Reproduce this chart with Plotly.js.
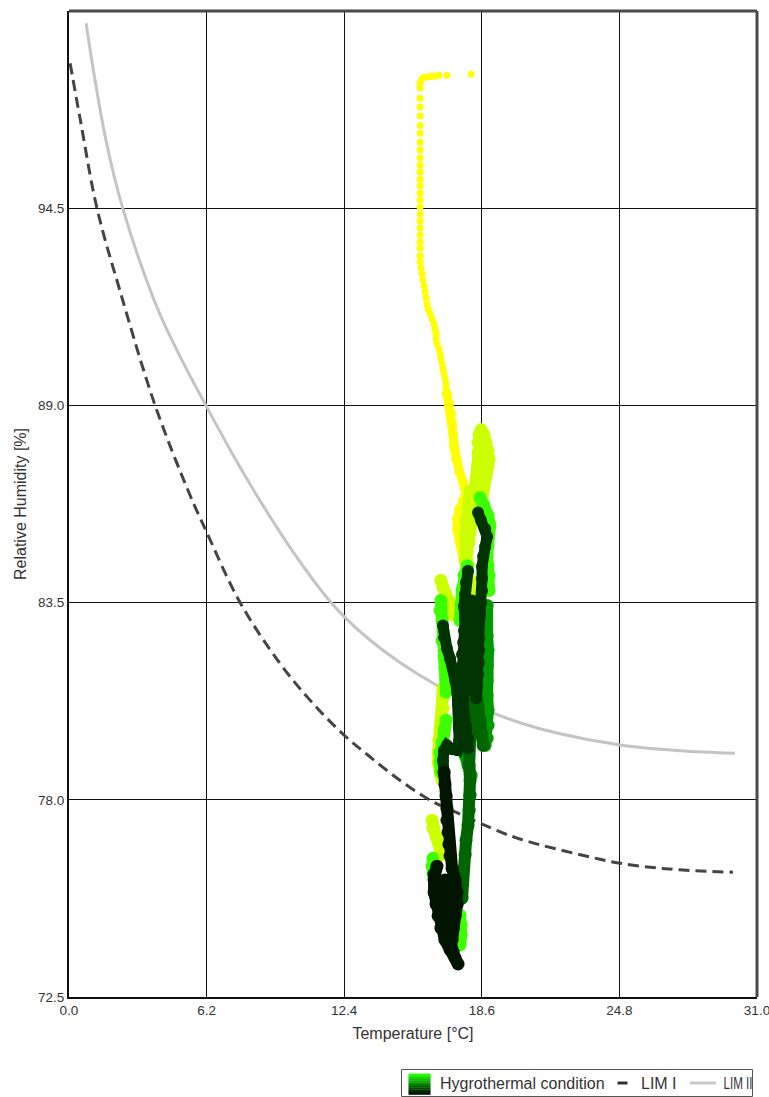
<!DOCTYPE html>
<html><head><meta charset="utf-8">
<script src="https://cdn.plot.ly/plotly-3.0.1.min.js"></script>
<style>html,body{margin:0;padding:0;background:#fff}</style>
</head><body><div id="chart" style="width:769px;height:1097px"></div>
<script>
// ---- tick labels ----
const xTickVals = [0, 6.2, 12.4, 18.6, 24.8, 31.0];
const xTickText = ['0.0', '6.2', '12.4', '18.6', '24.8', '31.0'];
const yTickVals = [72.5, 78.0, 83.5, 89.0, 94.5];
const yTickText = ['72.5', '78.0', '83.5', '89.0', '94.5'];

// ---- limit curves (temperature °C, relative humidity %) ----
const lim1T  = [0.05, 0.50, 1.26, 2.30, 3.88, 5.45, 6.17, 7.71, 9.51, 10.86, 12.40, 13.56, 14.92, 16.27, 17.62, 18.52, 20.19, 23.93, 24.83, 26.18, 27.67, 29.92];
const lim1RH = [98.54, 97.00, 94.50, 92.19, 89.00, 86.50, 85.51, 83.50, 81.80, 80.78, 79.80, 79.20, 78.54, 77.99, 77.60, 77.35, 76.93, 76.34, 76.23, 76.12, 76.04, 75.98];
const lim2T  = [0.77, 1.17, 1.62, 2.03, 2.43, 3.20, 4.10, 5.14, 6.17, 7.48, 8.83, 10.19, 11.54, 12.44, 13.57, 14.91, 16.72, 18.52, 20.32, 22.12, 24.83, 27.53, 30.00];
const lim2RH = [99.66, 98.08, 96.53, 95.40, 94.48, 93.00, 91.54, 90.20, 89.00, 87.52, 86.12, 84.83, 83.70, 83.08, 82.45, 81.83, 81.14, 80.57, 80.15, 79.84, 79.53, 79.37, 79.30];

// ---- hygrothermal condition, grouped by colour stage ----
const yellowT = [18.12,17.03,16.67,16.49,16.31,16.18,16.04,15.95,15.86,15.82,15.82,
  15.82,15.82,15.82,15.82,15.82,15.82,15.82,15.82,15.82,15.82,15.82,15.82,15.82,15.82,15.82,15.82,15.82,15.82,15.82,15.82,15.82,15.82,15.82,
  15.86,15.91,15.95,16.00,16.04,16.09,16.13,16.18,16.27,16.36,16.45,16.49,16.54,16.54,16.58,16.67,16.72,16.76,16.81,16.85,
  16.90,16.94,16.99,16.99,17.03,17.08,17.12,17.17,17.21,17.26,17.26,17.31,17.31,17.31,17.35,17.40,17.44,17.49,17.58,17.67,
  17.76,17.85,17.89,17.76,17.62,17.53,17.49,17.49,17.53,17.62,17.71,17.76,17.80,17.85];
const yellowRH = [98.24,98.21,98.21,98.18,98.18,98.16,98.16,98.13,98.07,97.99,97.85,
  97.57,97.32,97.07,96.81,96.59,96.34,96.12,95.90,95.70,95.51,95.31,95.12,94.92,94.73,94.53,94.34,94.14,93.95,93.75,93.56,93.38,93.17,93.00,
  92.83,92.67,92.50,92.33,92.17,92.00,91.83,91.69,91.55,91.41,91.27,91.14,91.00,90.86,90.72,90.58,90.44,90.30,90.16,90.02,
  89.88,89.74,89.60,89.46,89.32,89.19,89.05,88.91,88.77,88.63,88.49,88.35,88.18,88.01,87.85,87.68,87.51,87.35,87.18,87.01,
  86.85,86.68,86.51,86.34,86.18,86.01,85.84,85.68,85.51,85.34,85.17,85.01,84.84,84.67];
// wider yellow stretch lower down
const yellowBandT  = [17.03,17.12,17.21,17.26,17.31,17.35,17.44,17.58,17.76,17.89,17.76,17.58,17.49,17.49,17.62,17.76,17.85,17.94];
const yellowBandRH = [89.32,89.05,88.77,88.49,88.18,87.85,87.51,87.18,86.85,86.51,86.34,86.10,85.84,85.51,85.17,84.84,84.50,84.20];

const yellowGreenT = [17.85,17.94,18.03,18.07,18.12,18.16,18.25,18.30,18.34,18.39,18.43,18.43,18.43,18.48,18.57,18.70,18.79,18.88,18.93,18.88,18.79,18.70,18.66,18.61,18.57, null,
  18.07,17.98,17.89,17.85,17.89,17.98,18.07,18.12,18.16, null,
  16.76,16.85,16.99,17.12,17.21,17.26, null,
  16.85,16.85,16.85,16.81,16.72,16.67,16.63,16.63,16.72,16.81, null,
  16.36,16.40,16.54,16.67,16.76];
const yellowGreenRH = [84.67,84.90,85.17,85.45,85.73,86.01,86.29,86.57,86.85,87.12,87.40,87.68,87.96,88.18,88.32,88.18,87.96,87.74,87.51,87.29,87.07,86.85,86.62,86.40,86.18, null,
  86.62,86.20,85.79,85.37,84.95,84.53,84.12,83.70,83.28, null,
  84.12,83.92,83.73,83.56,83.36,83.17, null,
  81.11,80.83,80.55,80.27,79.99,79.66,79.32,79.05,78.77,78.55, null,
  77.43,77.21,76.98,76.73,76.46];

const brightGreenT = [16.76,16.72,16.81,16.85,16.81,16.90,17.03,17.17, null,
  18.52,18.70,18.88,18.97,18.88,18.88,18.84,18.88,18.93,18.93, null,
  16.99,16.90,16.81,16.72,16.72,16.76, null,
  16.40,16.36,16.40,16.49, null,
  17.62,17.67,17.67,17.62, null,
  17.94,17.80,17.71,17.67,17.62, null,
  16.90,16.94,16.99,16.99];
const brightGreenRH = [83.56,83.28,83.00,82.72,82.44,82.17,81.89,81.66, null,
  86.43,86.21,85.93,85.65,85.37,85.09,84.81,84.53,84.25,83.84, null,
  80.22,79.94,79.60,79.32,79.05,78.77, null,
  76.37,76.15,75.93,75.76, null,
  74.78,74.51,74.23,73.95, null,
  84.53,84.26,83.84,83.42,83.00, null,
  82.00,81.66,81.33,81.00];

const greenT  = [18.84,18.79,18.84,18.88,18.84,18.84,18.84,18.88,18.88,18.84,18.75, null,
  18.07,18.25,18.43,18.57,18.66,18.70,18.75,18.70, null, 17.85,17.98,18.12];
const greenRH = [83.42,83.00,82.58,82.17,81.75,81.33,80.91,80.50,80.08,79.72,79.52, null,
  82.44,82.17,81.89,81.61,81.05,80.50,79.94,79.60, null, 79.24,78.96,78.68];

const midGreenT  = [18.34,18.43,18.52,18.61,18.66, null,
  18.16,18.12,18.07,18.03,17.98,18.03,18.07,18.07,18.03,17.98,17.89,17.85,17.76,17.71,17.71];
const midGreenRH = [81.05,80.63,80.22,79.80,79.52, null,
  81.05,80.63,80.22,79.80,79.38,78.96,78.54,78.13,77.71,77.29,76.87,76.46,76.04,75.62,75.26];

const darkGreenT = [18.43,18.57,18.75,18.84,18.75,18.66,18.61,18.61,18.61,18.57,18.52,18.48,18.48,18.48,18.48,18.43,18.39,18.34, null,
  17.98,17.89,17.85,17.80,17.85,17.80,17.76,17.71,17.71,17.71,17.76,17.76,17.80,17.89,17.98,17.98, null,
  18.16,18.21,18.16,18.12,18.12,18.16,18.16, null,
  16.85,16.90,17.03,17.17,17.31,17.40,17.49,17.53,17.58,17.58,17.58,17.49,17.26,17.03,16.90,16.85,16.90];
const darkGreenRH = [86.01,85.79,85.56,85.34,85.06,84.79,84.51,84.17,83.84,83.50,83.17,82.83,82.50,82.17,81.83,81.50,81.16,80.83, null,
  84.39,84.06,83.73,83.39,83.06,82.72,82.39,82.05,81.72,81.39,81.05,80.72,80.38,80.05,79.72,79.44, null,
  83.56,83.14,82.72,82.31,81.89,81.47,81.05, null,
  82.86,82.53,82.22,81.94,81.66,81.33,81.00,80.66,80.33,79.99,79.66,79.38,79.41,79.52,79.38,79.10,78.77];

const blackGreenT  = [16.90,16.94,16.99,17.03,17.03,17.08,17.12,17.17,17.26,17.40,17.49,17.49,17.40,17.31,17.26, null,
  16.58,16.45,16.45,16.45,16.54,16.63,16.76,16.94,17.17,17.40,17.53, null,
  16.94,16.99,17.03,17.08,17.17,17.31];
const blackGreenRH = [78.77,78.43,78.10,77.76,77.43,77.09,76.76,76.43,76.09,75.76,75.42,75.09,74.76,74.42,74.09, null,
  76.15,75.93,75.76,75.42,75.09,74.76,74.42,74.09,73.82,73.59,73.42, null,
  75.76,75.34,74.92,74.51,74.09,73.75];

// ---- traces ----
function band(x, y, color, w) {
  return {x: x, y: y, type: 'scatter', mode: 'lines+markers', showlegend: false, hoverinfo: 'skip',
    line: {color: color, width: w}, marker: {color: color, size: w + 1}};
}
const traces = [
  {x: lim2T, y: lim2RH, type: 'scatter', mode: 'lines', name: 'LIM II', showlegend: false, hoverinfo: 'skip',
   line: {color: '#c4c4c4', width: 3, shape: 'spline'}},
  {x: lim1T, y: lim1RH, type: 'scatter', mode: 'lines', name: 'LIM I', showlegend: false, hoverinfo: 'skip',
   line: {color: '#444444', width: 3, dash: '11px,6px', shape: 'spline'}},
  {x: yellowT, y: yellowRH, type: 'scatter', mode: 'markers', showlegend: false, hoverinfo: 'skip',
   marker: {color: '#ffff00', size: 7}},
  band(yellowBandT, yellowBandRH, '#ffff00', 9),
  band(yellowGreenT, yellowGreenRH, '#ccff00', 12),
  band(brightGreenT, brightGreenRH, '#3cff00', 12),
  band(greenT, greenRH, '#009a00', 12),
  band(midGreenT, midGreenRH, '#006400', 12),
  band(darkGreenT, darkGreenRH, '#003300', 11),
  band(blackGreenT, blackGreenRH, '#001400', 12)
];

// ---- frame and legend built in paper coordinates ----
const px = v => (v - 69) / 688;
const py = v => (997 - v) / 986;
const shapes = [
  {type: 'line', xref: 'paper', yref: 'paper', x0: 0, x1: 1, y0: 1, y1: 1, line: {color: '#4a4a4a', width: 3}},
  {type: 'line', xref: 'paper', yref: 'paper', x0: 1, x1: 1, y0: 0, y1: 1, line: {color: '#4a4a4a', width: 3}},
  {type: 'rect', xref: 'paper', yref: 'paper', x0: px(401.5), x1: px(752.5), y0: py(1069.5), y1: py(1096.5),
   line: {color: '#555', width: 1}, fillcolor: '#fff'}
];
const grad = ['#22ff00','#1aec00','#14d800','#0fc200','#0aab00','#079400','#057c00','#036400','#024c00','#013600','#002200','#001200'];
const gTop = 1073.5, gBot = 1094.5, gStep = (gBot - gTop) / grad.length;
grad.forEach((c, i) => {
  shapes.push({type: 'rect', xref: 'paper', yref: 'paper', x0: px(408.5), x1: px(430.5),
    y0: py(gTop + i * gStep), y1: py(gTop + (i + 1) * gStep + 0.3), line: {width: 0}, fillcolor: c});
});
shapes.push({type: 'line', xref: 'paper', yref: 'paper', x0: px(617.5), x1: px(627.5), y0: py(1083), y1: py(1083),
  line: {color: '#333', width: 3}});
shapes.push({type: 'line', xref: 'paper', yref: 'paper', x0: px(690), x1: px(716), y0: py(1083), y1: py(1083),
  line: {color: '#c8c8c8', width: 3}});

const legFont = {family: 'Liberation Sans, Arial, sans-serif', size: 16, color: '#333'};
const annotations = [
  {text: 'Hygrothermal condition', x: px(439), y: py(1083), xref: 'paper', yref: 'paper', xanchor: 'left', yanchor: 'middle', showarrow: false, font: legFont, borderpad: 0},
  {text: 'LIM I', x: px(639.5), y: py(1083), xref: 'paper', yref: 'paper', xanchor: 'left', yanchor: 'middle', showarrow: false, font: legFont, borderpad: 0},
  {text: 'LIM II', x: px(737.5), y: py(1083), xref: 'paper', yref: 'paper', xanchor: 'center', yanchor: 'middle', showarrow: false, font: legFont, borderpad: 0}
];

const tickFont = {family: 'Liberation Sans, Arial, sans-serif', size: 13.5, color: '#333'};
const titleFont = {family: 'Liberation Sans, Arial, sans-serif', size: 16, color: '#333'};

const layout = {
  width: 769, height: 1097,
  margin: {l: 69, r: 12, t: 11, b: 100, pad: 0},
  paper_bgcolor: '#fff', plot_bgcolor: '#fff',
  showlegend: false,
  font: {family: 'Liberation Sans, Arial, sans-serif', color: '#333'},
  xaxis: {range: [0, 31], tickmode: 'array', tickvals: xTickVals, ticktext: xTickText,
    showgrid: true, gridcolor: '#111', gridwidth: 1, zeroline: false, ticklabeloverflow: 'allow',
    showline: true, linecolor: '#111', linewidth: 2, mirror: false, ticks: '',
    tickfont: tickFont, title: {text: 'Temperature [°C]', font: titleFont, standoff: 11}},
  yaxis: {range: [72.5, 100], tickmode: 'array', tickvals: yTickVals, ticktext: yTickText,
    showgrid: true, gridcolor: '#111', gridwidth: 1, zeroline: false, ticklabeloverflow: 'allow',
    showline: true, linecolor: '#111', linewidth: 2, mirror: false, ticks: '',
    tickfont: tickFont, title: {text: 'Relative Humidity [%]', font: titleFont, standoff: 7}},
  shapes: shapes,
  annotations: annotations
};

Plotly.newPlot('chart', traces, layout, {displayModeBar: false, staticPlot: true}).then(function (gd) {
  // the last legend label is squeezed horizontally in the original to fit its box
  gd.querySelectorAll('.annotation-text').forEach(function (t) {
    if (t.textContent === 'LIM II') {
      t.setAttribute('textLength', '29');
      t.setAttribute('lengthAdjust', 'spacingAndGlyphs');
    }
  });
});
</script>
</body></html>
